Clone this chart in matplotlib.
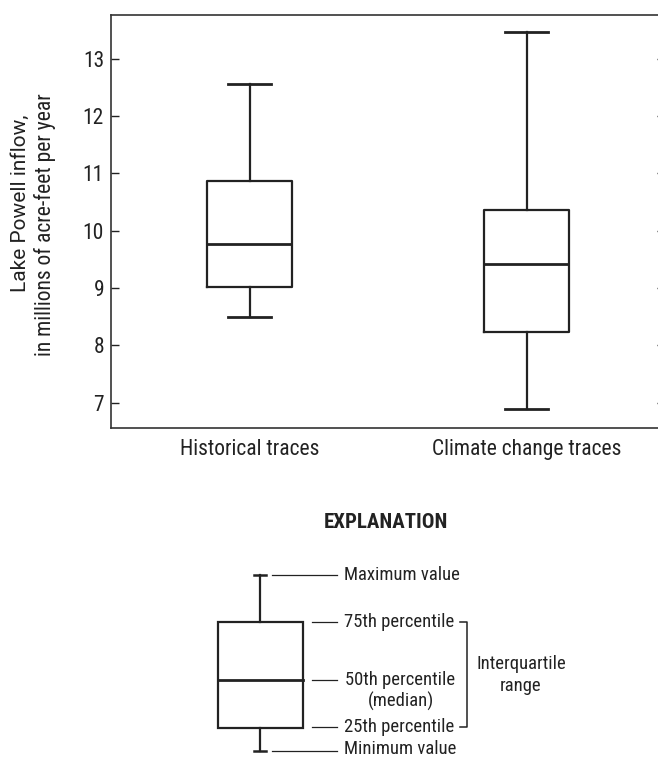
import numpy as np
import matplotlib
matplotlib.use("Agg")
import matplotlib.pyplot as plt
from matplotlib.patches import Rectangle
from matplotlib import font_manager

# box statistics (millions of acre-feet per year)
labels = ["Historical traces", "Climate change traces"]
whislo = [8.49, 6.89]
q1 = [9.02, 8.24]
med = [9.77, 9.42]
q3 = [10.87, 10.37]
whishi = [12.56, 13.47]
yticks = [7, 8, 9, 10, 11, 12, 13]

# look for a condensed face, the original uses a Univers Condensed style font
names = set(f.name for f in font_manager.fontManager.ttflist)
cond = [f for f in font_manager.fontManager.ttflist if f.stretch in ("condensed", "semi-condensed", 500, 600) or "Condensed" in f.name or "Narrow" in f.name]
stretch = "normal"
narrow = ["Liberation Sans", "DejaVu Sans"]
for cand in ["Roboto Condensed", "Liberation Sans Narrow", "Open Sans Condensed", "DejaVu Sans Condensed"]:
    if cand in names:
        narrow = [cand, "DejaVu Sans"]
        break
else:
    for f in cond:
        if f.name in ("DejaVu Sans", "Roboto", "Open Sans", "Noto Sans", "Inter"):
            narrow = [f.name, "DejaVu Sans"]
            stretch = "condensed"
            break
has_cond = narrow[0] != "Liberation Sans"
k = 1.0 if has_cond else 0.86

fig = plt.figure(figsize=(6.58, 7.58), dpi=100)
W, H = 658.0, 758.0

# main axes, right spine sits just outside the picture
ax = fig.add_axes([111 / W, 1 - 428 / H, (665 - 111) / W, (428 - 14.7) / H])

stats = []
for i in range(len(labels)):
    stats.append(dict(label=labels[i], whislo=whislo[i], q1=q1[i], med=med[i],
                      q3=q3[i], whishi=whishi[i], fliers=[]))

ax.bxp(stats, positions=[1, 2], widths=0.305, showfliers=False,
       boxprops=dict(color="#222222", linewidth=1.6),
       medianprops=dict(color="#222222", linewidth=2.0),
       whiskerprops=dict(color="#222222", linewidth=1.6),
       capprops=dict(color="#222222", linewidth=2.0))

ax.set_xlim(0.5, 2.5)
ax.set_ylim(6.56, 13.77)
ax.set_yticks(yticks)
ax.tick_params(axis="y", direction="in", length=5.8, width=1.0, color="#222222",
               right=True, labelsize=15.5 * k, pad=5)
ax.tick_params(axis="x", length=0, labelsize=15.5 * k, pad=8)
for lab in ax.get_xticklabels() + ax.get_yticklabels():
    lab.set_family(narrow)
    lab.set_stretch(stretch)
    lab.set_color("#222222")
for sp in ax.spines.values():
    sp.set_linewidth(1.2)
    sp.set_color("#333333")

# first line of the label is set in a wider face than the second
ylab = dict(rotation=90, ha="center", va="center", color="#222222")
fig.text(20 / W, 1 - 203 / H, "Lake Powell inflow,", fontsize=15 * k,
         family=["Roboto", "Liberation Sans", "DejaVu Sans"], **ylab)
fig.text(45 / W, 1 - 225 / H, "in millions of acre-feet per year", fontsize=15.5 * k,
         family=narrow, stretch=stretch, **ylab)

# explanation diagram, drawn in a pixel-space overlay
lx = fig.add_axes([0, 0, 1, 1])
lx.set_xlim(0, W)
lx.set_ylim(H, 0)
lx.axis("off")
ink = "#222222"

lx.text(386, 523, "EXPLANATION", ha="center", va="center", fontsize=15 * k,
        fontweight="bold", family=narrow, stretch=stretch, color=ink)

lx.add_patch(Rectangle((218, 622), 85, 106, fill=False, edgecolor=ink, linewidth=1.6))
lx.plot([218, 303], [680, 680], color=ink, linewidth=2.0)
lx.plot([260, 260], [575, 622], color=ink, linewidth=1.6)
lx.plot([260, 260], [728, 751], color=ink, linewidth=1.6)
lx.plot([254, 266], [575, 575], color=ink, linewidth=1.8)
lx.plot([254, 266], [751, 751], color=ink, linewidth=1.8)

lx.plot([272, 337], [575, 575], color=ink, linewidth=0.9)
lx.plot([272, 337], [751, 751], color=ink, linewidth=0.9)
for y in [622, 680, 727]:
    lx.plot([312, 337], [y, y], color=ink, linewidth=0.9)

fs = 13.4 * k
kw = dict(fontsize=fs, family=narrow, stretch=stretch, color=ink, va="center")
lx.text(344, 575, "Maximum value", ha="left", **kw)
lx.text(344, 622, "75th percentile", ha="left", **kw)
lx.text(400, 680, "50th percentile", ha="center", **kw)
lx.text(401, 701, "(median)", ha="center", **kw)
lx.text(344, 727, "25th percentile", ha="left", **kw)
lx.text(344, 749, "Minimum value", ha="left", **kw)

lx.plot([460, 467, 467, 460], [622, 622, 727, 727], color=ink, linewidth=1.1)
lx.text(521, 675, "Interquartile\nrange", ha="center", linespacing=1.3, **kw)

fig.savefig("out.png", dpi=100)
